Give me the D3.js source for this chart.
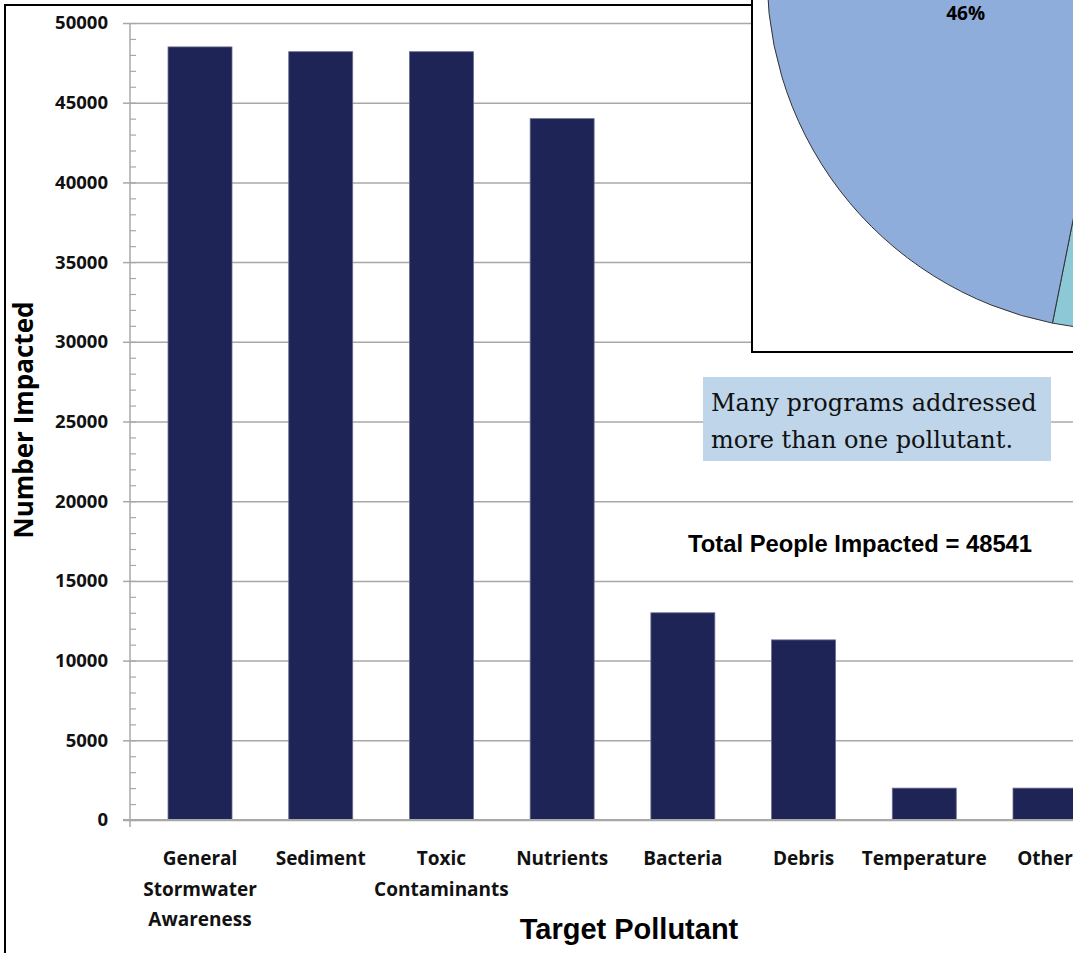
<!DOCTYPE html>
<html>

<head>
    <meta charset="utf-8">
    <style>
        body {
            margin: 0;
            background-color: #ffffff;
        }

        svg {
            display: block;
        }

        .tick-label {
            font-family: "Open Sans", sans-serif;
            font-weight: bold;
            fill: #111;
        }
    </style>
</head>

<body>
    <div id="chart"></div>

    <script src="https://d3js.org/d3.v7.min.js"></script>
    <script>
        // bar chart data
        var categories = ["General Stormwater Awareness", "Sediment", "Toxic Contaminants", "Nutrients",
            "Bacteria", "Debris", "Temperature", "Other"];
        var peopleImpacted = [48500, 48200, 48200, 44000, 13000, 11300, 2000, 2000];
        var yTicks = [0, 5000, 10000, 15000, 20000, 25000, 30000, 35000, 40000, 45000, 50000];
        var totalPeople = 48541;

        // pie inset (only the last two slices show in the crop)
        var pieValues = [12, 10, 14, 18, 46];
        var pieColors = ["#D99795", "#C3D69B", "#B3A2C7", "#8CC8D6", "#8EADDB"];

        var noteLines = ["Many programs addressed", "more than one pollutant."];

        var width = 1073, height = 953;

        var svg = d3.select("#chart").append("svg")
            .attr("width", width)
            .attr("height", height);

        var y = d3.scaleLinear()
            .domain([0, 50000])
            .range([820, 23]);

        var x = d3.scaleBand()
            .domain(categories)
            .range([130, 1115])
            .paddingInner(0.47)
            .paddingOuter(0.315);

        // outer frame
        svg.append("rect")
            .attr("x", 5).attr("y", 5)
            .attr("width", width + 20).attr("height", height + 20)
            .attr("fill", "none")
            .attr("stroke", "#000")
            .attr("stroke-width", 2);

        // gridlines
        svg.append("g")
            .attr("transform", "translate(130,0)")
            .call(d3.axisLeft(y).tickValues(yTicks).tickSize(-(width - 130)).tickFormat(""))
            .call(g => g.select(".domain").remove())
            .call(g => g.selectAll("line").attr("stroke", "#a8a8a8").attr("stroke-width", 1.5));

        // minor ticks
        svg.append("g")
            .attr("transform", "translate(130,0)")
            .call(d3.axisRight(y).tickValues(d3.range(0, 50001, 1000)).tickSize(6).tickFormat(""))
            .call(g => g.select(".domain").remove())
            .call(g => g.selectAll("line").attr("stroke", "#a8a8a8").attr("stroke-width", 1.2));

        // y axis
        var yAxis = svg.append("g")
            .attr("transform", "translate(130,0)")
            .call(d3.axisLeft(y).tickValues(yTicks).tickFormat(d3.format("d"))
                .tickSize(7).tickPadding(15).tickSizeOuter(0));
        yAxis.select(".domain").attr("stroke", "#a8a8a8").attr("stroke-width", 1.5)
            .attr("d", "M0," + y(50000) + "V" + (y(0) + 7));
        yAxis.selectAll("line").attr("stroke", "#a8a8a8").attr("stroke-width", 1.5);
        yAxis.selectAll("text")
            .attr("class", "tick-label")
            .style("font-size", "18.5px");

        // bars
        svg.append("g")
            .selectAll("rect")
            .data(peopleImpacted)
            .join("rect")
            .attr("x", (d, i) => x(categories[i]))
            .attr("y", d => y(d))
            .attr("width", x.bandwidth())
            .attr("height", d => y(0) - y(d))
            .attr("fill", "#1F2456")
            .attr("stroke", "#6a6e90")
            .attr("stroke-width", 0.8);

        // x baseline
        svg.append("line")
            .attr("x1", 123).attr("x2", width)
            .attr("y1", y(0)).attr("y2", y(0))
            .attr("stroke", "#a8a8a8")
            .attr("stroke-width", 2);

        // x category labels, one word per line
        var xAxis = svg.append("g")
            .attr("transform", "translate(0," + y(0) + ")")
            .call(d3.axisBottom(x).tickSize(0).tickFormat(""));
        xAxis.select(".domain").remove();
        xAxis.selectAll(".tick").each(function (d) {
            var t = d3.select(this).append("text")
                .attr("class", "tick-label")
                .attr("text-anchor", "middle")
                .style("font-size", "19px");
            d.split(" ").forEach(function (w, k) {
                t.append("tspan").attr("x", 0).attr("y", 45 + k * 30.5).text(w);
            });
        });

        // axis titles
        svg.append("text")
            .attr("transform", "translate(33,420) rotate(-90)")
            .attr("text-anchor", "middle")
            .style("font-family", "'Open Sans', sans-serif")
            .style("font-weight", "bold")
            .style("font-size", "26px")
            .text("Number Impacted");

        svg.append("text")
            .attr("x", 629).attr("y", 939)
            .attr("text-anchor", "middle")
            .style("font-family", "'Liberation Sans', Arial, sans-serif")
            .style("font-weight", "bold")
            .style("font-size", "29px")
            .text("Target Pollutant");

        // total
        svg.append("text")
            .attr("x", 688).attr("y", 552)
            .style("font-family", "'Liberation Sans', Arial, sans-serif")
            .style("font-weight", "bold")
            .style("font-size", "23.8px")
            .text("Total People Impacted = " + totalPeople);

        // note box
        svg.append("rect")
            .attr("x", 703).attr("y", 377)
            .attr("width", 348).attr("height", 84)
            .attr("fill", "#BED5EA");
        svg.append("text")
            .style("font-family", "'DejaVu Serif', serif")
            .style("font-size", "24px")
            .attr("fill", "#111")
            .selectAll("tspan")
            .data(noteLines)
            .join("tspan")
            .attr("x", 711)
            .attr("y", (d, i) => 411 + i * 37)
            .text(d => d);

        // pie inset
        var inset = svg.append("g");
        inset.append("clipPath").attr("id", "insetClip")
            .append("rect").attr("x", 752).attr("y", -5).attr("width", 400).attr("height", 357);
        inset.append("rect")
            .attr("x", 752).attr("y", -5)
            .attr("width", 400).attr("height", 357)
            .attr("fill", "#fff")
            .attr("stroke", "#000")
            .attr("stroke-width", 2);

        var pieR = 355;
        var labelFrac = 0.392;
        var pie = d3.pie().sort(null)
            .startAngle(-3.1 * Math.PI / 180)
            .endAngle(2 * Math.PI - 3.1 * Math.PI / 180);
        var arc = d3.arc().innerRadius(0).outerRadius(pieR);
        var slices = pie(pieValues);
        var labelPos = d => d3.pointRadial(d.startAngle + labelFrac * (d.endAngle - d.startAngle), 161);

        var pg = inset.append("g")
            .attr("clip-path", "url(#insetClip)")
            .append("g")
            .attr("transform", "translate(1122,-25)");
        pg.selectAll("path")
            .data(slices)
            .join("path")
            .attr("d", arc)
            .attr("fill", (d, i) => pieColors[i])
            .attr("stroke", "#333")
            .attr("stroke-width", 1);
        pg.selectAll("text")
            .data(slices.filter(d => 1122 + labelPos(d)[0] < width - 30 && labelPos(d)[1] - 25 > 0))
            .join("text")
            .attr("transform", d => "translate(" + labelPos(d) + ")")
            .attr("text-anchor", "middle")
            .attr("dy", "0.35em")
            .style("font-family", "'Open Sans', sans-serif")
            .style("font-weight", "bold")
            .style("font-size", "19px")
            .text(d => d.data + "%");
    </script>
</body>

</html>
